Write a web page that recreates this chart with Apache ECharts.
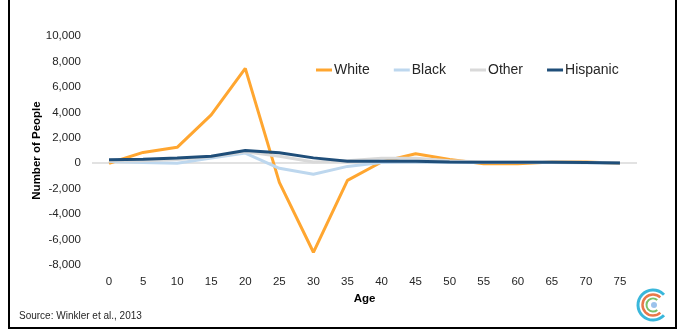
<!DOCTYPE html>
<html>
<head>
<meta charset="utf-8">
<script src="https://cdn.jsdelivr.net/npm/echarts@6/dist/echarts.min.js"></script>
<style>
html,body{margin:0;padding:0;background:#fff;}
#c{width:688px;height:330px;}
</style>
</head>
<body>
<div id="c"></div>
<script>
var ages = ['0','5','10','15','20','25','30','35','40','45','50','55','60','65','70','75'];
var white = [0, 850, 1250, 3800, 7450, -1500, -7000, -1350, 100, 750, 300, -50, -50, 100, 100, 0];
var black = [150, 50, 0, 400, 800, -400, -870, -250, 50, 100, 50, 50, 50, 50, 30, 20];
var other = [200, 200, 300, 500, 900, 550, 100, 200, 400, 400, 200, 100, 100, 100, 50, 50];
var hispanic = [280, 320, 420, 550, 1000, 830, 420, 160, 160, 150, 100, 80, 80, 80, 50, 20];
var seriesNames = ['White', 'Black', 'Other', 'Hispanic'];
var colors = ['#ffa630', '#bdd7ee', '#d9d9d9', '#1f4e79'];
var FONT = 'Liberation Sans';

var chart = echarts.init(document.getElementById('c'), null, {renderer: 'canvas'});
function mk(name, data, color, extra) {
  var s = {
    name: name, type: 'line', data: data, symbol: 'none', smooth: false,
    lineStyle: {color: color, width: 3}, itemStyle: {color: color}
  };
  if (extra) for (var k in extra) s[k] = extra[k];
  return s;
}
chart.setOption({
  animation: false,
  backgroundColor: '#fff',
  textStyle: {fontFamily: FONT},
  grid: {left: 92, right: 51, top: 36, bottom: 65, containLabel: false},
  legend: {
    data: seriesNames, left: 311, top: 58, icon: 'rect', itemWidth: 16, itemHeight: 3,
    itemGap: 24, textStyle: {fontFamily: FONT, fontSize: 14, color: '#262626', padding: [0, 0, 0, -3]}
  },
  xAxis: {
    type: 'category', data: ages, boundaryGap: true,
    name: 'Age', nameLocation: 'middle', nameGap: 28,
    nameTextStyle: {fontFamily: FONT, fontSize: 11.5, fontWeight: 'bold', color: '#000'},
    axisLine: {show: false}, axisTick: {show: false},
    axisLabel: {fontFamily: FONT, fontSize: 11.5, color: '#262626', margin: 11}
  },
  yAxis: {
    type: 'value', min: -8000, max: 10000, interval: 2000,
    name: 'Number of People', nameLocation: 'middle', nameGap: 49, nameMoveOverlap: false,
    nameTextStyle: {fontFamily: FONT, fontSize: 11.5, fontWeight: 'bold', color: '#000'},
    axisLine: {show: false}, axisTick: {show: false}, splitLine: {show: false},
    axisLabel: {fontFamily: FONT, fontSize: 11.5, color: '#262626', margin: 11,
      formatter: function (v) { return v.toLocaleString('en-US'); }}
  },
  series: [
    mk('White', white, colors[0], {
      markLine: {silent: true, symbol: 'none', label: {show: false},
        lineStyle: {color: '#d9d9d9', width: 1.5, type: 'solid'},
        data: [{yAxis: 0}], z: 1}
    }),
    mk('Black', black, colors[1]),
    mk('Other', other, colors[2]),
    mk('Hispanic', hispanic, colors[3])
  ],
  graphic: [
    {type: 'rect', shape: {x: 9, y: -5, width: 667, height: 333},
      style: {fill: null, stroke: '#000', lineWidth: 2}, silent: true},
    {type: 'text', left: 19, top: 311,
      style: {text: 'Source: Winkler et al., 2013', fontFamily: FONT, fontSize: 10, fill: '#262626'}},
    {type: 'arc', shape: {cx: 653, cy: 305, r: 15, startAngle: 0.75, endAngle: 2 * Math.PI - 0.75, clockwise: true},
      style: {fill: null, stroke: '#3ab7db', lineWidth: 3}},
    {type: 'arc', shape: {cx: 653, cy: 305, r: 10.5, startAngle: 0.8, endAngle: 2 * Math.PI - 0.8, clockwise: true},
      style: {fill: null, stroke: '#e8784a', lineWidth: 2.5}},
    {type: 'arc', shape: {cx: 653, cy: 305, r: 6.5, startAngle: 0.85, endAngle: 2 * Math.PI - 0.85, clockwise: true},
      style: {fill: null, stroke: '#7bc16a', lineWidth: 2}},
    {type: 'circle', shape: {cx: 654, cy: 305, r: 3}, style: {fill: '#9cc3ec'}}
  ]
});
</script>
</body>
</html>
